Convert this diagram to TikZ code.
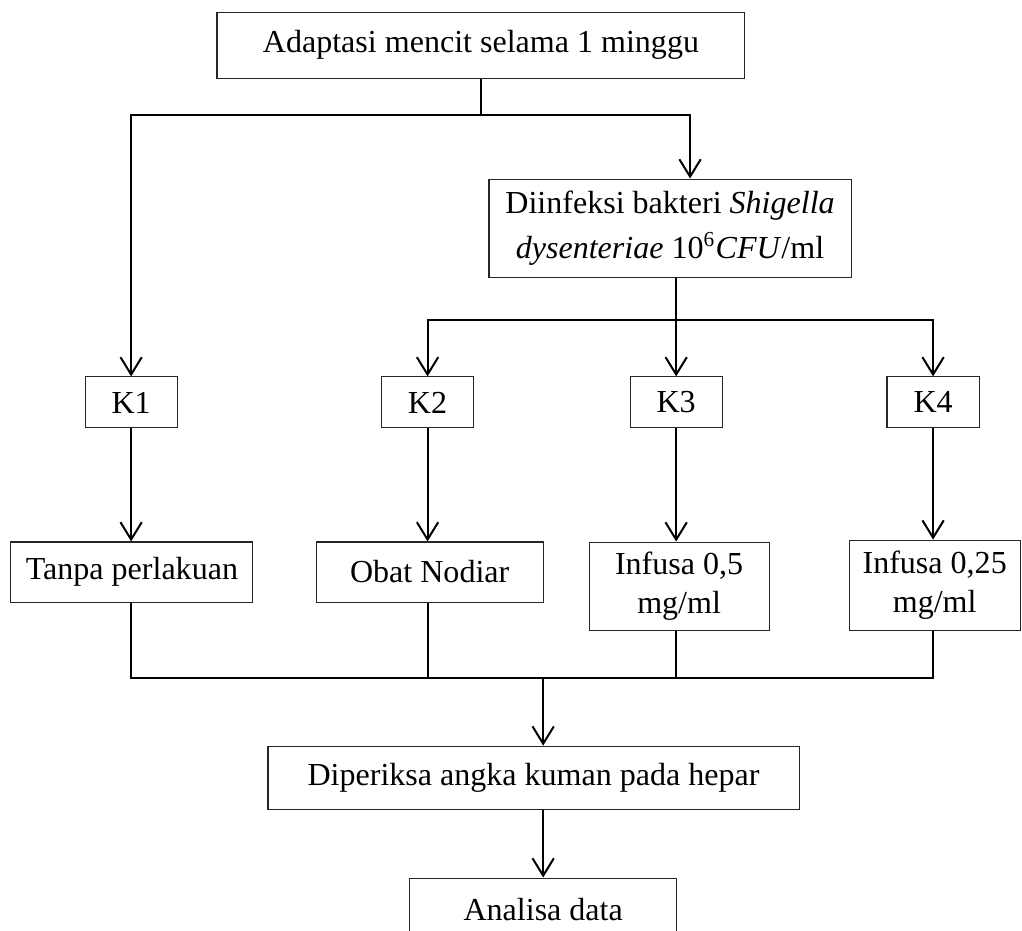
\documentclass[tikz,border=0pt]{standalone}
\usepackage{fontspec}
\setmainfont{Liberation Serif}
\usetikzlibrary{arrows.meta,positioning}
\tikzset{
	box/.style={
		rectangle,
		draw=black!85, thin,
		inner sep=0pt,
		align=center,
		font=\fontsize{12}{14.6}\selectfont,
	},
	link/.style={line width=0.75pt},
	flow/.style={link, -{Straight Barb[length=6.5pt,width=8pt]}},
}

\begin{document}
\begin{tikzpicture}[x=1pt,y=1pt]
\useasboundingbox (0,0) rectangle (382.7,-348.3);

\node	(adapt)		[box, minimum width=197.7pt, minimum height=24.7pt]	at (180.1,-16.9)	{Adaptasi mencit selama 1 minggu};
\node	(infeksi)	[box, minimum width=135.6pt, minimum height=36.7pt, font=\fontsize{12}{17}\selectfont]	at (250.9,-85.4)	{Diinfeksi bakteri \textit{Shigella}\\\textit{dysenteriae} 10\textsuperscript{6}\textit{CFU}/ml};

\node	(k1)	[box, minimum width=34.5pt, minimum height=19.1pt]	at (49.1,-150.7)	{K1};
\node	(k2)	[box, minimum width=34.5pt, minimum height=19.1pt]	at (160.1,-150.7)	{K2};
\node	(k3)	[box, minimum width=34.5pt, minimum height=19.1pt]	at (253.2,-150.7)	{K3};
\node	(k4)	[box, minimum width=34.5pt, minimum height=19.1pt]	at (349.4,-150.7)	{K4};

\node	(tanpa)	[box, minimum width=90.6pt, minimum height=22.5pt]	at (49.4,-214.2)	{Tanpa perlakuan};
\node	(obat)	[box, minimum width=85pt, minimum height=22.5pt]	at (160.9,-214.2)	{Obat Nodiar};
\node	(inf5)	[box, minimum width=67.4pt, minimum height=33pt]	at (254.3,-219.5)	{Infusa 0,5\\mg/ml};
\node	(inf25)	[box, minimum width=64pt, minimum height=33.7pt]	at (350,-219.1)	{Infusa 0,25\\mg/ml};

\node	(periksa)	[box, minimum width=198.9pt, minimum height=23.6pt]	at (199.8,-291.2)	{Diperiksa angka kuman pada hepar};
\node	(analisa)	[box, minimum width=100pt, minimum height=23.6pt]	at (203.4,-340.6)	{Analisa data};

% branch points
\coordinate (split) at (adapt.south |- 0,-43.1);
\coordinate (split2) at ([xshift=2.3pt]infeksi.south |- 0,-119.8);
\coordinate (merge) at (203.4,-253.9);

\draw[link] (adapt) -- (split);
\draw[flow] (split) -| (k1);
\draw[flow] (split) -| ([xshift=7.5pt]infeksi.north);

\draw[link] ([xshift=2.3pt]infeksi.south) -- (split2);
\draw[flow] (split2) -| (k2);
\draw[flow] (split2) -- (k3);
\draw[flow] (split2) -| (k4);

\draw[flow] (k1) -- (k1 |- tanpa.north);
\draw[flow] (k2) -- (k2 |- obat.north);
\draw[flow] (k3) -- (k3 |- inf5.north);
\draw[flow] (k4) -- (k4 |- inf25.north);

\draw[link] (k1 |- tanpa.south) |- (merge);
\draw[link] (k2 |- obat.south) |- (merge);
\draw[link] (k3 |- inf5.south) |- (merge);
\draw[link] (k4 |- inf25.south) |- (merge);

\draw[flow] (merge) -- (merge |- periksa.north);
\draw[flow] (merge |- periksa.south) -- (analisa);

\end{tikzpicture}
\end{document}
